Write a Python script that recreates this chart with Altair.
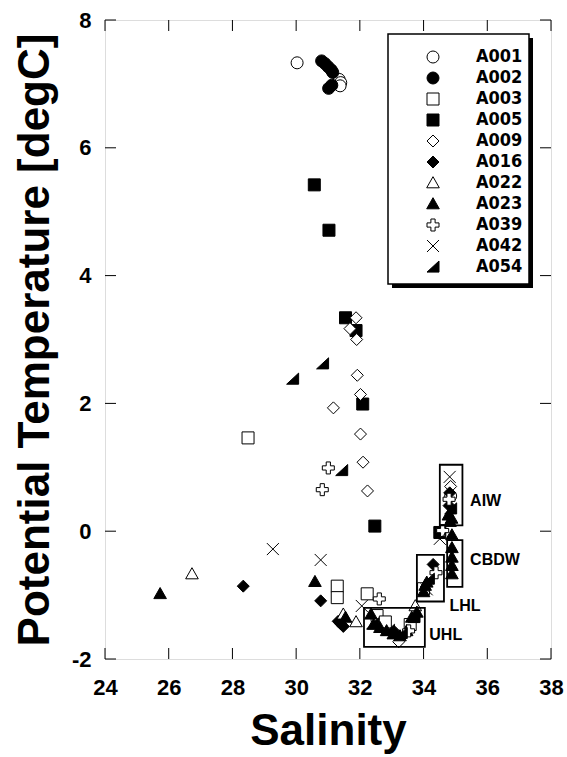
import altair as alt
import pandas as pd

SERIES = ["A001", "A002", "A003", "A005", "A009", "A016", "A022", "A023", "A039", "A042", "A054"]

A001_S = [30.03, 31.35, 31.40, 31.38, 34.85]
A001_T = [7.33, 7.07, 7.02, 6.97, 0.55]
A002_S = [30.80, 30.90, 31.00, 31.10, 31.15, 31.02, 31.12]
A002_T = [7.36, 7.32, 7.27, 7.22, 7.18, 6.93, 6.98]
A003_S = [28.49, 31.29, 31.29, 32.23, 32.54, 32.80, 33.58, 34.00]
A003_T = [1.46, -0.86, -1.04, -0.98, -1.32, -1.42, -1.46, -0.90]
A005_S = [30.57, 31.03, 31.55, 31.88, 32.09, 32.47, 34.51]
A005_T = [5.42, 4.71, 3.34, 3.14, 1.99, 0.08, -0.02]
A009_S = [31.88, 31.69, 31.90, 31.92, 32.02, 31.17, 32.02, 32.10, 32.24, 33.22, 34.85]
A009_T = [3.34, 3.17, 3.00, 2.44, 2.14, 1.93, 1.52, 1.08, 0.63, -1.73, 0.70]
A016_S = [28.34, 30.77, 31.32, 31.48, 31.40, 34.30, 34.80, 34.82, 33.10]
A016_T = [-0.86, -1.09, -1.41, -1.49, -1.45, -0.52, 0.40, 0.60, -1.58]
A022_S = [26.73, 31.48, 31.88, 33.74]
A022_T = [-0.67, -1.30, -1.42, -1.17]
A023_S = [25.73, 30.59, 31.55, 32.35, 32.43, 32.63, 32.84, 33.05, 33.26, 33.47, 33.63, 33.79,
          34.00, 34.05, 34.10, 34.89, 34.89, 34.89, 34.89, 34.89, 34.78, 34.88, 34.83]
A023_T = [-0.98, -0.79, -1.35, -1.30, -1.46, -1.51, -1.56, -1.61, -1.64, -1.56, -1.35, -1.27,
          -0.95, -0.85, -0.80, -0.06, -0.26, -0.41, -0.54, -0.67, 0.25, 0.20, 0.15]
A039_S = [31.01, 30.82, 32.61, 34.39, 34.60, 33.53, 34.80]
A039_T = [0.99, 0.65, -1.06, -0.65, 0.01, -1.56, 0.50]
A042_S = [29.27, 30.77, 32.06, 34.82, 34.51, 34.10]
A042_T = [-0.28, -0.45, -1.17, 0.85, -0.12, -0.91]
A054_S = [30.83, 29.89, 31.43, 32.40, 32.90, 33.30, 33.70, 34.15, 34.85]
A054_T = [2.62, 2.38, 0.95, -1.45, -1.55, -1.60, -1.35, -0.75, 0.35]

SAL = [A001_S, A002_S, A003_S, A005_S, A009_S, A016_S, A022_S, A023_S, A039_S, A042_S, A054_S]
TEMP = [A001_T, A002_T, A003_T, A005_T, A009_T, A016_T, A022_T, A023_T, A039_T, A042_T, A054_T]

SHAPES = [
    "circle",
    "circle",
    "M-1,-1L1,-1L1,1L-1,1Z",
    "M-1,-1L1,-1L1,1L-1,1Z",
    "M0,-1L1,0L0,1L-1,0Z",
    "M0,-1L1,0L0,1L-1,0Z",
    "M0,-1.05L1.05,0.8L-1.05,0.8Z",
    "M0,-1.05L1.05,0.8L-1.05,0.8Z",
    "M-0.35,-1L0.35,-1L0.35,-0.35L1,-0.35L1,0.35L0.35,0.35L0.35,1L-0.35,1L-0.35,0.35L-1,0.35L-1,-0.35L-0.35,-0.35Z",
    "M-1,-1L1,1M-1,1L1,-1",
    "M-1,0.85L1,0.85L1,-1Z",
]
FILLS = ["white", "black", "white", "black", "white", "black", "white", "black", "white", "white", "black"]
STROKES = ["black"] * len(SERIES)

X_TICKS = [24, 26, 28, 30, 32, 34, 36, 38]
Y_TICKS = [-2, 0, 2, 4, 6, 8]

BOX_NAMES = ["AIW", "CBDW", "LHL", "UHL"]
BOX_S1 = [34.51, 34.74, 33.79, 32.13]
BOX_S2 = [35.22, 35.22, 34.64, 34.04]
BOX_T1 = [1.04, -0.14, -0.37, -1.20]
BOX_T2 = [0.09, -0.87, -1.10, -1.81]
LAB_S = [35.46, 35.46, 34.81, 34.18]
LAB_T = [0.48, -0.45, -1.17, -1.62]

rows = []
for name, ss, tt in zip(SERIES, SAL, TEMP):
    for s, t in zip(ss, tt):
        rows.append({"S": s, "T": t, "id": name})
pts = pd.DataFrame(rows)

boxes = pd.DataFrame({"S": BOX_S1, "S2": BOX_S2, "T": BOX_T1, "T2": BOX_T2})
labels = pd.DataFrame({"S": LAB_S, "T": LAB_T, "lab": BOX_NAMES})
xt = pd.DataFrame({"S": X_TICKS})
yt = pd.DataFrame({"T": Y_TICKS})
one = pd.DataFrame({"k": [0]})

W, H = 446, 639
FONT = "Liberation Sans"

xs = alt.Scale(domain=[24, 38], nice=False, zero=False)
ys = alt.Scale(domain=[-2, 8], nice=False, zero=False)
xaxis = alt.Axis(values=X_TICKS, ticks=False, domain=False, grid=False, labelFlush=False,
                 labelExpr="'' + datum.value",
                 labelFont=FONT, labelFontSize=22, labelFontWeight="bold", labelColor="black",
                 labelPadding=18, titleFont=FONT, titleFontSize=44, titleFontWeight="bold",
                 titleColor="black", titlePadding=11)
yaxis = alt.Axis(values=Y_TICKS, ticks=False, domain=False, grid=False, labelFlush=False,
                 labelExpr="'' + datum.value",
                 labelFont=FONT, labelFontSize=22, labelFontWeight="bold", labelColor="black",
                 labelPadding=14, titleFont=FONT, titleFontSize=44, titleFontWeight="bold",
                 titleColor="black", titlePadding=14)
X = alt.X("S:Q", scale=xs, axis=xaxis, title="Salinity")
Y = alt.Y("T:Q", scale=ys, axis=yaxis, title="Potential Temperature [degC]")

LEG = alt.Legend(title=None, orient="none", legendX=319, legendY=28, padding=0,
                 symbolSize=144, symbolStrokeColor="black", symbolStrokeWidth=1,
                 labelFont="DejaVu Sans Condensed", labelFontSize=18, labelFontWeight="bold",
                 labelColor="black", labelOffset=34, rowPadding=3, symbolOffset=0)

shadow = alt.Chart(one).mark_rect(fill="black").encode(
    x=alt.value(287), x2=alt.value(428), y=alt.value(18), y2=alt.value(268))
lbox = alt.Chart(one).mark_rect(fill="white", stroke="black", strokeWidth=1.5).encode(
    x=alt.value(283), x2=alt.value(424), y=alt.value(14), y2=alt.value(264))

points = alt.Chart(pts).mark_point(filled=True, strokeWidth=1, size=144, opacity=1).encode(
    x=X, y=Y,
    shape=alt.Shape("id:N", scale=alt.Scale(domain=SERIES, range=SHAPES), legend=LEG),
    fill=alt.Fill("id:N", scale=alt.Scale(domain=SERIES, range=FILLS), legend=LEG),
    stroke=alt.Stroke("id:N", scale=alt.Scale(domain=SERIES, range=STROKES), legend=LEG),
)

rects = alt.Chart(boxes).mark_rect(fillOpacity=0, stroke="black", strokeWidth=1.8).encode(
    x=X, x2="S2:Q", y=Y, y2="T2:Q")
texts = alt.Chart(labels).mark_text(align="left", baseline="middle", font=FONT, fontSize=16,
                                    fontWeight="bold", color="black").encode(
    x=X, y=Y, text="lab:N")

tb = alt.Chart(xt).mark_rule(color="black", strokeWidth=1).encode(x=X, y=alt.value(H), y2=alt.value(H - 11))
tt = alt.Chart(xt).mark_rule(color="black", strokeWidth=1).encode(x=X, y=alt.value(0), y2=alt.value(11))
tl = alt.Chart(yt).mark_rule(color="black", strokeWidth=1).encode(y=Y, x=alt.value(0), x2=alt.value(11))
tr = alt.Chart(yt).mark_rule(color="black", strokeWidth=1).encode(y=Y, x=alt.value(W), x2=alt.value(W - 11))

chart = alt.layer(shadow, lbox, points, rects, texts, tb, tt, tl, tr).properties(
    width=W, height=H,
    autosize=alt.AutoSizeParams(type="none"),
    padding={"left": 105, "top": 20, "right": 16, "bottom": 98},
).configure_view(stroke="black", strokeWidth=1.5).configure(background="white")

chart.save("out.html", embed_options={"renderer": "svg", "actions": False})
